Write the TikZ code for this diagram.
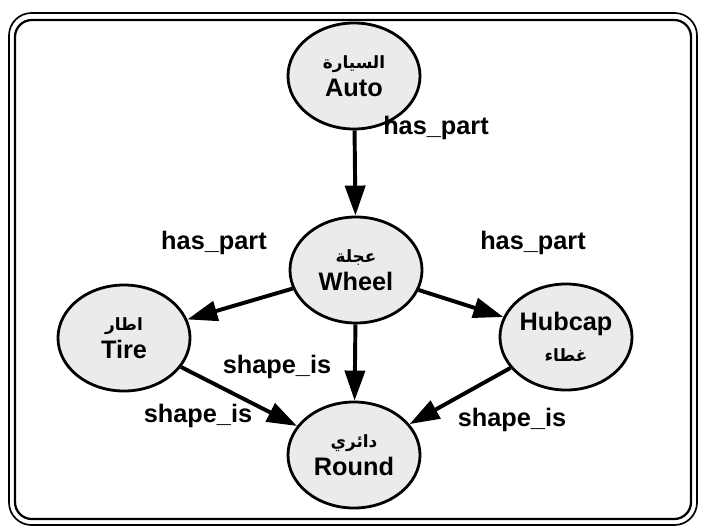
\documentclass[tikz,border=0pt]{standalone}
\usepackage{fontspec}
\setmainfont{Liberation Sans}
\newfontfamily\arabicfont[Script=Arabic]{DejaVu Sans}
\TeXXeTstate=1
\usetikzlibrary{arrows.meta,shapes.geometric}

\newcommand{\ar}[1]{{\arabicfont\fontsize{12}{13}\selectfont\beginR #1\endR}}

\begin{document}
\begin{tikzpicture}[x=0.025cm,y=-0.025cm,
  concept/.style={ellipse,draw,line width=2pt,fill=black!8,
    minimum width=3.3cm,minimum height=2.65cm,inner sep=0pt,align=center,
    font=\bfseries\fontsize{18}{19}\selectfont},
  rel/.style={line width=2.8pt,-{Triangle[length=0.75cm,width=0.5cm]}},
  lbl/.style={font=\bfseries\fontsize{18}{20}\selectfont}]

  % Frame
  \useasboundingbox (0,0) rectangle (701,528);
  \draw[line width=1.2pt,rounded corners=16pt] (9,13) rectangle (697,525);
  \draw[line width=1.6pt,rounded corners=12pt] (15,20) rectangle (691,519);

  % Concepts
  \node[concept] (auto)   at (354,76)  {\ar{السيارة}\\[1pt]Auto};
  \node[concept] (wheel)  at (356,270) {\ar{عجلة}\\[1pt]Wheel};
  \node[concept] (tire)   at (124,338) {\ar{اطار}\\[1pt]Tire};
  \node[concept] (hubcap) at (566,337) {Hubcap\\[3pt]\ar{غطاء}};
  \node[concept] (round)  at (354,455) {\ar{دائري}\\[1pt]Round};

  % Relations
  \draw[rel] (auto) -- (wheel);
  \draw[rel] (wheel) -- (tire);
  \draw[rel] (wheel) -- (hubcap);
  \draw[rel] (wheel) -- (round);
  \draw[rel] (tire) -- (round);
  \draw[rel] (hubcap) -- (round);

  % Labels
  \node[lbl] (l1) at (436,128) {has\_part};
  \node[lbl] (l2) at (214,243) {has\_part};
  \node[lbl] (l3) at (533,243) {has\_part};
  \node[lbl] (l4) at (277,367) {shape\_is};
  \node[lbl] (l5) at (198,416) {shape\_is};
  \node[lbl] (l6) at (512,420) {shape\_is};

\end{tikzpicture}
\end{document}
